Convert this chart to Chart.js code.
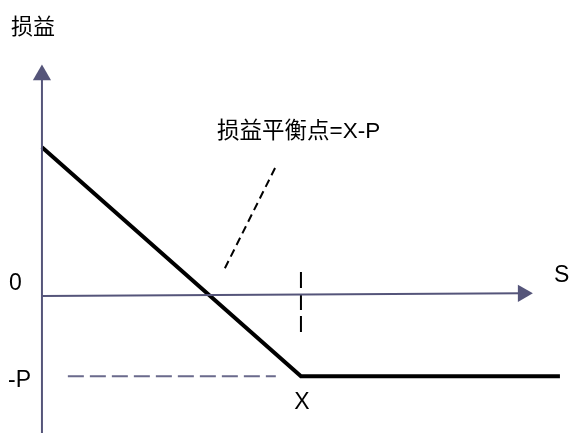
<!DOCTYPE html>
<html><head><meta charset="utf-8">
<script src="https://cdn.jsdelivr.net/npm/chart.js@4.4.1/dist/chart.umd.min.js"></script>
<style>html,body{margin:0;padding:0;background:#fff}#wrap{width:569px;height:433px}</style>
</head><body><div id="wrap"><canvas id="c" width="569" height="433"></canvas></div>
<script>
// ---- data: long put payoff (price S vs profit/loss) ----
const strike = 100;          // X
const premium = 35;          // P
const payoffS = [0, 100, 200];
const payoffV = [65, -35, -35];
// axes drawn as data lines (S axis slightly tilted as in the picture)
const sAxisS = [0, 185.7];
const sAxisV = [0, 1.2];
const pAxisS = [0, 0];
const pAxisV = [-60, 96.5];
// dashed guides
const premiumGuideS = [10, 90.3];
const premiumGuideV = [-35, -35];
const strikeGuideS = [100, 100];
const strikeGuideV = [10.5, -15.7];
const leaderS = [90, 69.9];
const leaderV = [55.9, 10.5];
// texts
const yTitle = '损益';
const xTitle = 'S';
const breakevenText = '损益平衡点=X-P';
const zeroText = '0';
const minusPText = '-P';
const strikeText = 'X';

const AXIS = '#55557a';
const pts = (xs, ys) => xs.map((x, i) => ({x, y: ys[i]}));

const textPlugin = {
  id: 'texts',
  afterDatasetsDraw(chart) {
    const {ctx, scales: {x, y}} = chart;
    ctx.save();
    ctx.fillStyle = '#000';
    ctx.textBaseline = 'middle';
    const font = s => s + 'px "Liberation Sans", Arial, "Noto Sans CJK SC", sans-serif';
    ctx.font = font(22);
    ctx.textAlign = 'left';
    ctx.fillText(yTitle, 11, 28);
    ctx.font = font(22.5);
    ctx.fillText(breakevenText, 217, 132);
    ctx.font = font(23);
    ctx.fillText(zeroText, 9, y.getPixelForValue(0) - 12);
    ctx.fillText(minusPText, 8, y.getPixelForValue(-premium) + 4);
    ctx.textAlign = 'center';
    ctx.fillText(strikeText, x.getPixelForValue(strike) + 1, y.getPixelForValue(-premium) + 26);
    ctx.textAlign = 'left';
    ctx.fillText(xTitle, 554, 276);
    ctx.restore();
  }
};

new Chart(document.getElementById('c'), {
  type: 'scatter',
  data: {
    datasets: [
      {data: pts(pAxisS, pAxisV), showLine: true, borderColor: AXIS, borderWidth: 2,
       pointStyle: 'triangle', pointRadius: [0, 10.5], pointBackgroundColor: AXIS, pointBorderWidth: 0, rotation: 0},
      {data: pts(sAxisS, sAxisV), showLine: true, borderColor: AXIS, borderWidth: 2,
       pointStyle: 'triangle', pointRadius: [0, 10], pointBackgroundColor: AXIS, pointBorderWidth: 0, rotation: 90},
      {data: pts(premiumGuideS, premiumGuideV), showLine: true, borderColor: '#6a6a8c', borderWidth: 2,
       borderDash: [16, 6], pointRadius: 0},
      {data: pts(strikeGuideS, strikeGuideV), showLine: true, borderColor: '#000', borderWidth: 2,
       borderDash: [16, 6], pointRadius: 0},
      {data: pts(leaderS, leaderV), showLine: true, borderColor: '#000', borderWidth: 2,
       borderDash: [8, 5], pointRadius: 0},
      {data: pts(payoffS, payoffV), showLine: true, borderColor: '#000', borderWidth: 4,
       borderJoinStyle: 'miter', pointRadius: 0}
    ]
  },
  options: {
    responsive: false,
    animation: false,
    events: [],
    layout: {padding: 0, autoPadding: false},
    plugins: {legend: {display: false}, tooltip: {enabled: false}, title: {display: false}},
    scales: {
      x: {type: 'linear', display: false, min: -16.2, max: 203.5},
      y: {type: 'linear', display: false, min: -59.8, max: 129.3}
    }
  },
  plugins: [textPlugin]
});
</script></body></html>
